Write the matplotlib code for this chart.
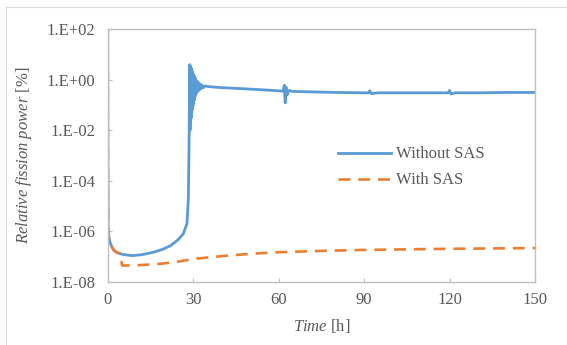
import matplotlib
matplotlib.use('Agg')
from matplotlib import pyplot as plt
from matplotlib.ticker import FixedLocator, FuncFormatter, NullLocator
import numpy as np

# Relative fission power [%] over time [h]
t_without = [0, 0.04, 0.08, 0.15, 0.3, 0.6, 1.2, 2, 3, 5, 8.5, 12, 16, 19, 22, 24.7, 26.5, 27.8,
             28.3, 28.5, 28.6, 28.7,
             28.8, 28.9, 29.0, 29.1, 29.2, 29.3, 29.4, 29.5, 29.6, 29.7, 29.8, 29.9,
             30.0, 30.1, 30.2, 30.3, 30.4, 30.5, 30.6, 30.7, 30.8, 30.9, 31.0, 31.2,
             31.4, 31.6, 31.8, 32.0, 32.3, 32.6, 33.0, 33.5, 34.0,
             36, 40, 45, 50, 55, 60, 61.5, 62.0, 62.3, 62.6, 63.0, 63.5, 65, 70,
             80, 90, 91.5, 92, 92.5, 95, 100, 110, 118, 119.5, 120, 120.5, 122,
             130, 140, 150]
p_without = [100, 1e-2, 1e-4, 1.5e-6, 7e-7, 4.5e-7, 2.8e-7, 1.9e-7, 1.5e-7, 1.25e-7, 1.1e-7, 1.2e-7,
             1.5e-7, 1.9e-7, 2.7e-7, 4.7e-7, 8e-7, 2e-6,
             2e-5, 1e-3, 1e-2, 0.5,
             3.9, 0.01, 3.4, 0.02, 3.0, 0.03, 2.6, 0.05, 2.2, 0.07, 1.9, 0.09,
             1.7, 0.12, 1.5, 0.15, 1.35, 0.18, 1.2, 0.22, 1.05, 0.26, 0.95, 0.3,
             0.85, 0.34, 0.75, 0.38, 0.68, 0.42, 0.62, 0.47, 0.56,
             0.52, 0.48, 0.45, 0.42, 0.39, 0.36, 0.35, 0.6, 0.12, 0.5, 0.25, 0.37, 0.34, 0.33,
             0.31, 0.30, 0.30, 0.36, 0.28, 0.30, 0.30, 0.30, 0.30, 0.30, 0.37, 0.27, 0.30,
             0.30, 0.31, 0.31]

t_with = [0, 0.04, 0.08, 0.15, 0.3, 0.6, 1.2, 2, 3, 4, 4.5, 5, 8, 12, 19, 25, 30.7, 40, 50, 60,
          75, 90, 105, 120, 135, 150]
p_with = [100, 1e-2, 1e-4, 1.5e-6, 7e-7, 4.5e-7, 2.8e-7, 1.9e-7, 1.5e-7, 1.35e-7, 1.3e-7, 4.5e-8,
          4.5e-8, 4.7e-8, 5.3e-8, 6.5e-8, 8.3e-8, 1.05e-7, 1.3e-7, 1.5e-7,
          1.7e-7, 1.85e-7, 1.95e-7, 2.05e-7, 2.12e-7, 2.2e-7]

x_ticks = [0, 30, 60, 90, 120, 150]
y_ticks = [1e-8, 1e-6, 1e-4, 1e-2, 1e0, 1e2]

blue = '#5b9bd5'
orange = '#ed7d31'
gray_text = '#595959'
spine_gray = '#bfbfbf'

plt.rcParams['font.family'] = ['Liberation Serif', 'DejaVu Serif']
plt.rcParams['mathtext.fontset'] = 'custom'
plt.rcParams['mathtext.rm'] = 'Liberation Serif'
plt.rcParams['mathtext.it'] = 'Liberation Serif:italic'

fig = plt.figure(figsize=(5.67, 3.45), dpi=100)
ax = fig.add_axes([0.19, 0.1826, 0.7536, 0.7334])

# chart area border (top and left edges visible)
fig.add_artist(plt.Line2D([6 / 567, 1], [1 - 7 / 345] * 2, color='#d9d9d9', lw=0.8))
fig.add_artist(plt.Line2D([6 / 567] * 2, [0, 1 - 7 / 345], color='#d9d9d9', lw=0.8))

ax.plot(t_without, p_without, color=blue, lw=2.0, label='Without SAS')
ax.plot(t_with, p_with, color=orange, lw=1.9, dashes=(4.5, 3), label='With SAS')

ax.set_yscale('log')
ax.set_xlim(0, 150)
ax.set_ylim(1e-8, 1e2)
ax.xaxis.set_major_locator(FixedLocator(x_ticks))
ax.yaxis.set_major_locator(FixedLocator(y_ticks))
ax.yaxis.set_minor_locator(NullLocator())
ax.yaxis.set_major_formatter(FuncFormatter(lambda v, pos: f'1.E{int(round(np.log10(v))):+03d}'))

ax.tick_params(direction='in', length=3, width=0.8, color=spine_gray,
               labelsize=12, labelcolor=gray_text)
ax.tick_params(axis='y', pad=9)
ax.tick_params(axis='x', pad=7)
for s in ax.spines.values():
    s.set_color(spine_gray)
    s.set_linewidth(1.0)

ax.set_ylabel(r'$\it{Relative\ fission\ power}$ [%]', fontsize=12, color=gray_text, labelpad=9)
ax.set_xlabel(r'$\it{Time}$ [h]', fontsize=12, color=gray_text, labelpad=7)

ax.legend(loc='center left', bbox_to_anchor=(0.539, 0.4526), frameon=False,
          fontsize=12, handlelength=3.2, handletextpad=0.3, labelspacing=0.6,
          borderpad=0, borderaxespad=0, labelcolor=gray_text)

fig.savefig('out.png', dpi=100)
